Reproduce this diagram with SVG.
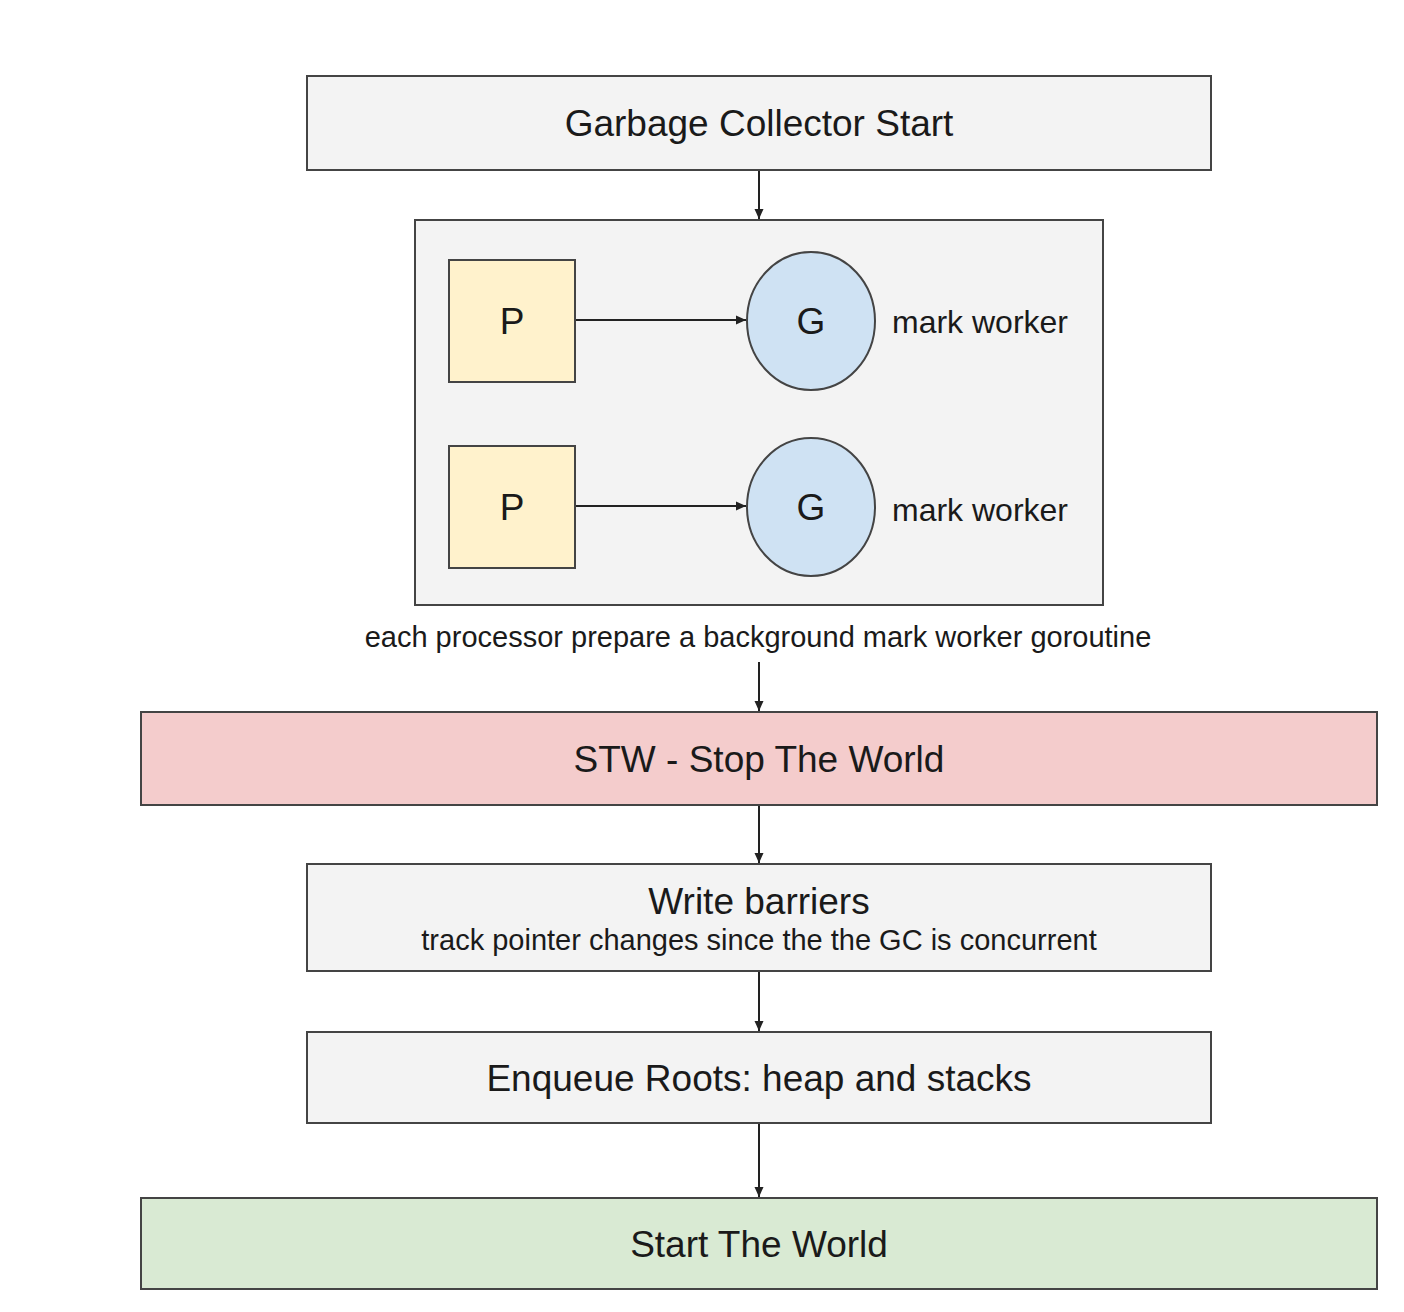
<svg xmlns="http://www.w3.org/2000/svg" width="1404" height="1312" viewBox="0 0 1404 1312">
<style>
  text { font-family: "Liberation Sans", Arial, sans-serif; fill: #1a1a1a; text-anchor: middle; }
  .box { stroke: #444; stroke-width: 2; }
  .grey { fill: #f3f3f3; }
  .big { font-size: 37px; }
  .mid { font-size: 32px; }
  .small { font-size: 29px; }
  .conn { stroke: #222; stroke-width: 2; fill: none; marker-end: url(#arr); }
</style>
<defs>
  <marker id="arr" markerUnits="userSpaceOnUse" markerWidth="10" markerHeight="10" refX="10" refY="5" orient="auto">
    <path d="M0,0.5 L10,5 L0,9.5 z" fill="#222"/>
  </marker>
</defs>
<rect width="1404" height="1312" fill="#fff"/>

<g id="gc-start">
  <rect class="box grey" x="307" y="76" width="904" height="94"/>
  <text class="big" x="759" y="136">Garbage Collector Start</text>
</g>

<g id="container">
  <rect class="box grey" x="415" y="220" width="688" height="385"/>
</g>

<g id="p1">
  <rect class="box" fill="#fff2cc" x="449" y="260" width="126" height="122"/>
  <text class="big" x="512" y="334">P</text>
</g>
<g id="g1">
  <ellipse class="box" fill="#cfe2f3" cx="811" cy="321" rx="64" ry="69"/>
  <text class="big" x="811" y="334">G</text>
</g>
<g id="mw1">
  <text class="mid" x="980" y="333">mark worker</text>
</g>

<g id="p2">
  <rect class="box" fill="#fff2cc" x="449" y="446" width="126" height="122"/>
  <text class="big" x="512" y="520">P</text>
</g>
<g id="g2">
  <ellipse class="box" fill="#cfe2f3" cx="811" cy="507" rx="64" ry="69"/>
  <text class="big" x="811" y="520">G</text>
</g>
<g id="mw2">
  <text class="mid" x="980" y="521">mark worker</text>
</g>

<g id="caption">
  <text class="small" x="758" y="647">each processor prepare a background mark worker goroutine</text>
</g>

<g id="stw">
  <rect class="box" fill="#f4cccc" x="141" y="712" width="1236" height="93"/>
  <text class="big" x="759" y="772">STW - Stop The World</text>
</g>

<g id="write-barriers">
  <rect class="box grey" x="307" y="864" width="904" height="107"/>
  <text class="big" x="759" y="914">Write barriers</text>
  <text class="small" x="759" y="950">track pointer changes since the the GC is concurrent</text>
</g>

<g id="enqueue">
  <rect class="box grey" x="307" y="1032" width="904" height="91"/>
  <text class="big" x="759" y="1091">Enqueue Roots: heap and stacks</text>
</g>

<g id="start-world">
  <rect class="box" fill="#d9ead3" x="141" y="1198" width="1236" height="91"/>
  <text class="big" x="759" y="1257">Start The World</text>
</g>

<g id="connectors">
  <line class="conn" x1="759" y1="171" x2="759" y2="219"/>
  <line class="conn" x1="576" y1="320" x2="746" y2="320"/>
  <line class="conn" x1="576" y1="506" x2="746" y2="506"/>
  <line class="conn" x1="759" y1="662" x2="759" y2="711"/>
  <line class="conn" x1="759" y1="806" x2="759" y2="863"/>
  <line class="conn" x1="759" y1="972" x2="759" y2="1031"/>
  <line class="conn" x1="759" y1="1124" x2="759" y2="1197"/>
</g>
</svg>
